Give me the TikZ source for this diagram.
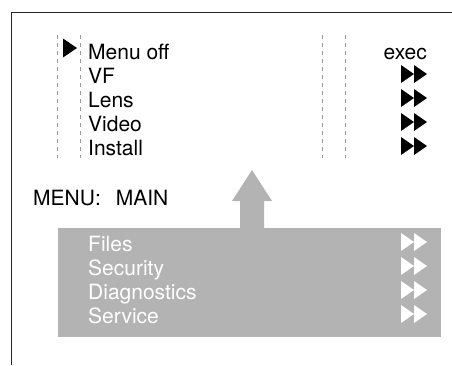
\documentclass[tikz,border=0pt]{standalone}
\usepackage{fontspec}
\setmainfont{TeX Gyre Heros}
\definecolor{panelgray}{HTML}{B3B3B3}
\definecolor{dashgray}{HTML}{9A9A9A}
\tikzset{
  lbl/.style={anchor=base west, inner sep=0pt, font=\fontsize{21}{24}\selectfont},
  lblr/.style={anchor=base east, inner sep=0pt, font=\fontsize{21}{24}\selectfont},
  guide/.style={draw=dashgray, line width=0.7pt, dash pattern=on 4pt off 4pt},
  dtri/.pic={\fill (0,-9) -- (13,0) -- (0,9) -- cycle; \fill (13,-9) -- (26,0) -- (13,9) -- cycle;}
}
\begin{document}
\begin{tikzpicture}[x=1pt,y=-1pt]
\useasboundingbox (0,0) rectangle (452,365);
% frame
\coordinate (ftl) at (11,12);
\coordinate (ftr) at (452,12);
\coordinate (fbl) at (11,365);
\draw[line width=1pt, black!85] (ftr) -- (ftl) -- (fbl);
% dashed guides
\foreach \x/\n in {57/ga,80/gb,322/gc,345/gd}{
  \coordinate (\n1) at (\x,35);
  \coordinate (\n2) at (\x,158);
  \draw[guide] (\n1) -- (\n2);
}
% pointer
\fill (63,38.5) -- (77,48) -- (63,57.5) -- cycle;
% main menu items
\node[lbl] (menuoff) at (88,59) {Menu off};
\node[lbl] (vf) at (88,83) {VF};
\node[lbl] (lens) at (88,107) {Lens};
\node[lbl] (video) at (88,131) {Video};
\node[lbl] (install) at (88,155) {Install};
\node[lblr] (exec) at (427,59) {exec};
\foreach \y in {74,98,122,146}{ \pic at (401,\y) {dtri}; }
% label
\node[lbl] (menumain) at (33,205) {MENU:\hspace{15pt}MAIN};
% panel
\node[fill=panelgray, inner sep=0pt, minimum width=383pt, minimum height=109pt, anchor=north west] (panel) at (58,228) {};
\fill[panelgray] (240,229) -- (240,201) -- (232,201) -- (252,170) -- (272,201) -- (264,201) -- (264,229) -- cycle;
\node[lbl, text=white] (files) at (88,251.5) {Files};
\node[lbl, text=white] (security) at (88,275.5) {Security};
\node[lbl, text=white] (diag) at (88,299.5) {Diagnostics};
\node[lbl, text=white] (service) at (88,323.5) {Service};
\foreach \y in {242,266,290,314}{ \pic[fill=white] at (401,\y) {dtri}; }
\end{tikzpicture}
\end{document}
